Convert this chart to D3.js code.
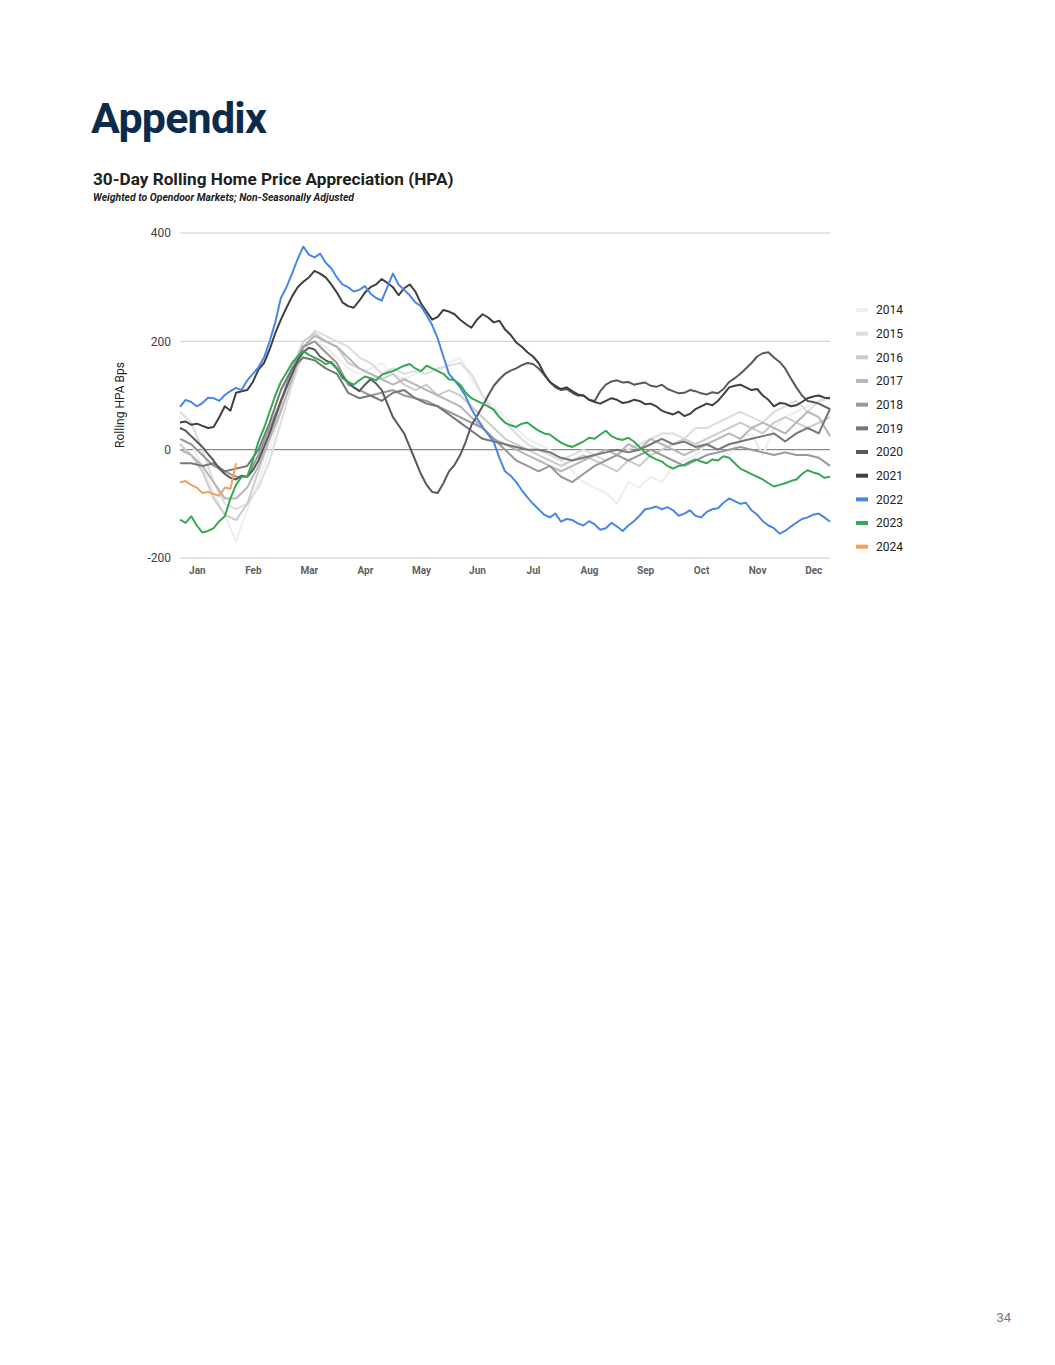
<!DOCTYPE html>
<html>
<head>
<meta charset="utf-8">
<script src="https://cdn.jsdelivr.net/npm/d3@7"></script>
<style>
  body { margin: 0; background: #fff; }
  svg { display: block; }
</style>
</head>
<body>
<div id="chart"></div>
<script>
// données (fin déc. à mi-déc., pas de 0.2 mois pour 2014-2019, 0.1 mois ensuite)
const years = ["2014", "2015", "2016", "2017", "2018", "2019", "2020", "2021", "2022", "2023", "2024"];
const colors = ["#eeeeee", "#dddddd", "#cccccc", "#b7b7b7", "#999999", "#777777", "#595959", "#3f3f3f", "#4a86e8", "#34a853", "#f6a05a"];
const months = ["Jan", "Feb", "Mar", "Apr", "May", "Jun", "Jul", "Aug", "Sep", "Oct", "Nov", "Dec"];
const yTicks = [-200, 0, 200, 400];

const v2014 = [20, 10, -30, -80, -120, -170, -110, -60, 0, 70,
  140, 190, 200, 190, 170, 150, 140, 150, 160, 140,
  130, 140, 150, 145, 160, 170, 130, 100, 80, 60,
  40, 20, 10, 0, -20, -40, -60, -70, -80, -100,
  -60, -70, -50, -60, -30, -20, -10, 10, 0, -10,
  20, 30, -10, 40, 60, 70, 80, 90, 100];
const v2015 = [70, 50, 0, -60, -100, -110, -100, -70, -20, 50,
  120, 180, 220, 210, 200, 190, 170, 160, 140, 150,
  140, 145, 140, 150, 155, 160, 140, 100, 70, 50,
  30, 10, 0, -10, -20, -10, 0, -10, -20, -10,
  0, 10, 20, 30, 30, 20, 40, 40, 50, 60,
  70, 60, 50, 70, 80, 90, 70, 90, 95];
const v2016 = [10, -10, -40, -90, -120, -130, -100, -40, 20, 80,
  150, 200, 215, 200, 190, 160, 150, 140, 130, 140,
  120, 110, 120, 100, 110, 100, 80, 60, 40, 20,
  10, 0, -10, -20, -30, -20, -10, -20, -30, -40,
  -20, -30, -10, 0, 10, 20, 10, 20, 30, 40,
  50, 40, 30, 50, 60, 50, 40, 50, 60];
const v2017 = [0, -10, -30, -60, -90, -90, -70, -30, 20, 70,
  130, 190, 210, 200, 190, 170, 150, 140, 130, 120,
  130, 120, 110, 100, 90, 80, 60, 40, 20, 10,
  0, -10, -20, -30, -40, -30, -20, -10, 0, -10,
  10, 0, 20, 10, 0, -10, 0, 10, 20, 30,
  20, 40, 50, 40, 30, 50, 70, 60, 25];
const v2018 = [20, 10, -10, -30, -40, -50, -50, -10, 40, 90,
  150, 190, 200, 180, 160, 120, 110, 100, 105, 110,
  100, 95, 90, 80, 70, 60, 50, 40, 20, 0,
  -20, -30, -40, -30, -50, -60, -45, -30, -20, -10,
  -20, -10, 0, -10, -20, -30, -20, -10, -5, 0,
  5, 0, -5, -10, -5, -10, -10, -15, -30];
const v2019 = [-25, -25, -30, -25, -40, -35, -30, 0, 50, 110,
  150, 170, 165, 150, 140, 105, 95, 100, 90, 105,
  110, 95, 85, 80, 65, 50, 35, 20, 15, 10,
  5, 0, 0, -5, -15, -20, -15, -10, -5, 0,
  -5, 0, 10, 20, 10, 15, 5, 10, 0, 10,
  15, 20, 25, 30, 15, 30, 40, 30, 75];
const v2020 = [40, 35, 25, 15, 5, -8, -20, -35, -45, -52, -55, -48, -50, -38, -20, 5, 30, 60, 90, 115,
  140, 165, 180, 188, 185, 172, 165, 160, 150, 135, 125, 115, 108, 120, 130, 122, 110, 85, 60, 45,
  30, 5, -20, -45, -65, -78, -80, -62, -40, -28, -10, 15, 45, 62, 80, 100, 118, 130, 140, 146,
  150, 156, 160, 158, 150, 138, 125, 115, 110, 112, 105, 100, 100, 92, 90, 108, 120, 126, 128, 124,
  125, 120, 122, 124, 118, 116, 120, 112, 108, 104, 105, 110, 108, 104, 102, 106, 104, 112, 125, 132,
  140, 150, 160, 172, 178, 180, 170, 162, 150, 132, 115, 100, 90, 88, 85, 80, 75];
const v2021 = [50, 52, 46, 48, 44, 40, 42, 60, 80, 72, 105, 108, 110, 125, 148, 160, 185, 215, 240, 262,
  283, 300, 310, 318, 330, 325, 318, 305, 290, 272, 265, 262, 275, 290, 300, 305, 315, 308, 300, 285,
  298, 305, 292, 270, 255, 240, 245, 258, 255, 250, 240, 232, 225, 240, 250, 244, 235, 238, 222, 212,
  198, 190, 180, 172, 160, 140, 125, 118, 112, 115, 108, 102, 100, 92, 88, 85, 90, 95, 92, 86,
  88, 92, 90, 84, 85, 80, 72, 68, 65, 70, 62, 66, 75, 80, 85, 82, 90, 102, 115, 118,
  120, 115, 110, 112, 100, 92, 80, 86, 85, 80, 82, 88, 95, 98, 100, 96, 95];
const v2022 = [79, 92, 88, 80, 86, 96, 95, 90, 101, 108, 114, 110, 128, 140, 152, 170, 200, 235, 280, 300,
  325, 352, 375, 360, 355, 362, 345, 335, 318, 305, 300, 292, 295, 302, 288, 280, 275, 300, 325, 305,
  295, 285, 272, 265, 248, 230, 205, 172, 140, 128, 115, 98, 75, 58, 42, 28, 14, -15, -40, -48,
  -60, -75, -88, -100, -110, -120, -125, -118, -133, -128, -130, -136, -140, -132, -138, -148, -145, -135, -142, -150,
  -140, -132, -122, -110, -108, -105, -110, -106, -112, -122, -118, -112, -122, -125, -115, -110, -108, -98, -90, -95,
  -100, -98, -112, -120, -132, -140, -145, -155, -150, -142, -135, -128, -125, -120, -118, -125, -133];
const v2023 = [-129, -135, -123, -140, -153, -150, -145, -132, -123, -90, -65, -50, -50, -20, 15, 40, 70, 100, 125, 142,
  160, 172, 182, 175, 170, 165, 158, 162, 150, 132, 125, 120, 128, 135, 132, 128, 138, 142, 145, 150,
  155, 158, 150, 145, 155, 150, 145, 140, 130, 128, 120, 105, 95, 90, 85, 80, 74, 60, 50, 45,
  42, 48, 50, 42, 35, 30, 28, 20, 13, 8, 5, 10, 15, 22, 20, 28, 35, 25, 20, 18,
  22, 15, 5, -5, -13, -18, -22, -30, -35, -30, -28, -22, -18, -22, -25, -18, -20, -12, -15, -25,
  -35, -40, -45, -50, -55, -62, -68, -65, -62, -58, -55, -45, -38, -42, -45, -52, -50];
const v2024 = [-60, -58, -65, -70, -80, -78, -82, -85, -70, -72, -25];

const series = [v2014, v2015, v2016, v2017, v2018, v2019, v2020, v2021, v2022, v2023, v2024];
const steps = [0.2, 0.2, 0.2, 0.2, 0.2, 0.2, 0.1, 0.1, 0.1, 0.1, 0.1];

const table = years.map((yr, i) => ({ year: yr, values: series[i], step: steps[i], color: colors[i] }));

const W = 1055, H = 1365;
const svg = d3.select("#chart").append("svg")
  .attr("width", W)
  .attr("height", H)
  .style("font-family", "Roboto, 'Liberation Sans', Arial, sans-serif");

// titres
svg.append("text")
  .attr("x", 91).attr("y", 133)
  .style("font-size", "43px").style("font-weight", 700)
  .style("letter-spacing", "-0.8px")
  .attr("fill", "#0c2b4b")
  .text("Appendix");

svg.append("text")
  .attr("x", 93).attr("y", 185)
  .style("font-size", "17.2px").style("font-weight", 700)
  .attr("fill", "#212121")
  .text("30-Day Rolling Home Price Appreciation (HPA)");

svg.append("text")
  .attr("x", 93).attr("y", 201)
  .style("font-size", "10.4px").style("font-weight", 700).style("font-style", "italic")
  .attr("fill", "#212121")
  .text("Weighted to Opendoor Markets; Non-Seasonally Adjusted");

// échelles (x en mois, Jan = 0)
const x = d3.scaleLinear().domain([-0.3, 11.3]).range([180, 830]);
const y = d3.scaleLinear().domain([-200, 400]).range([558, 233]);

// grille
svg.append("g")
  .selectAll("line")
  .data(yTicks)
  .enter()
  .append("line")
  .attr("x1", 180).attr("x2", 830)
  .attr("y1", d => y(d)).attr("y2", d => y(d))
  .attr("stroke", d => d === 0 ? "#8a8a8a" : "#cccccc")
  .attr("stroke-width", d => d === 0 ? 1.3 : 1);

// axe y
const yAxis = d3.axisLeft(y).tickValues(yTicks).tickFormat(d => String(d)).tickSize(0).tickPadding(9);
svg.append("g")
  .attr("transform", "translate(180,0)")
  .call(yAxis)
  .call(g => g.select(".domain").remove())
  .selectAll("text")
  .style("font-size", "12px")
  .style("font-family", "Roboto, Arial, sans-serif")
  .attr("fill", "#444");

svg.append("text")
  .attr("transform", "rotate(-90)")
  .attr("x", -405).attr("y", 124)
  .attr("text-anchor", "middle")
  .style("font-size", "12px")
  .attr("fill", "#222")
  .text("Rolling HPA Bps");

// axe x
const xAxis = d3.axisBottom(x).tickValues(d3.range(months.length)).tickFormat(i => months[i]).tickSize(0).tickPadding(9);
svg.append("g")
  .attr("transform", "translate(0,558)")
  .call(xAxis)
  .call(g => g.select(".domain").remove())
  .selectAll("text")
  .style("font-size", "10px")
  .style("font-weight", 700)
  .style("font-family", "Roboto, Arial, sans-serif")
  .attr("fill", "#5f5f5f");

// lignes
svg.append("g")
  .selectAll("path")
  .data(table)
  .enter()
  .append("path")
  .attr("d", s => d3.line()
    .x((d, i) => x(-0.3 + i * s.step))
    .y(d => y(d))(s.values))
  .attr("fill", "none")
  .attr("stroke", s => s.color)
  .attr("stroke-width", 2)
  .attr("stroke-linejoin", "round");

// légende
const legend = svg.append("g")
  .selectAll("g")
  .data(table)
  .enter()
  .append("g")
  .attr("transform", (d, i) => `translate(856,${310 + i * 23.67})`);

legend.append("line")
  .attr("x1", 0).attr("x2", 12)
  .attr("stroke", d => d.color)
  .attr("stroke-width", 4);

legend.append("text")
  .attr("x", 20)
  .attr("dy", "0.35em")
  .style("font-size", "12px")
  .attr("fill", "#222")
  .text(d => d.year);

// numéro de page
svg.append("text")
  .attr("x", 1011).attr("y", 1322)
  .attr("text-anchor", "end")
  .style("font-size", "13px")
  .attr("fill", "#777")
  .text("34");
</script>
</body>
</html>
